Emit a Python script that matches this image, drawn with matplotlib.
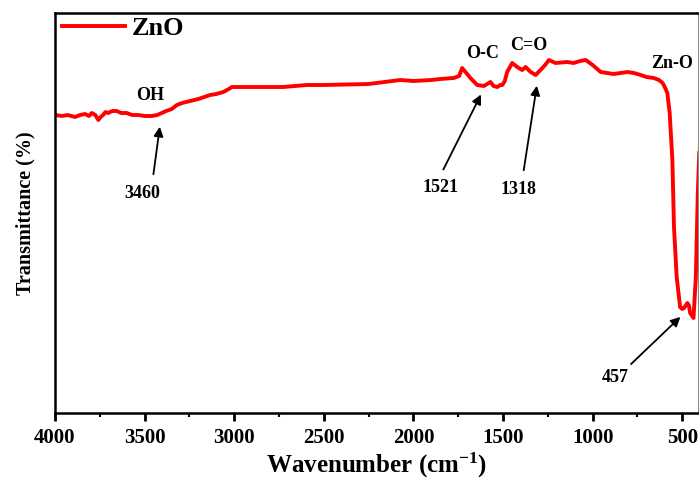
import matplotlib
matplotlib.use("Agg")
import matplotlib.pyplot as plt
from matplotlib.ticker import MultipleLocator

plt.rcParams["mathtext.fontset"] = "custom"
plt.rcParams["mathtext.rm"] = "Liberation Serif:bold"
plt.rcParams["mathtext.bf"] = "Liberation Serif:bold"
plt.rcParams["mathtext.it"] = "Liberation Serif:bold"

# Spectrum (wavenumber cm^-1, transmittance in arbitrary units)
wavenumber = [4000, 3960, 3930, 3888, 3860, 3832, 3810, 3795, 3775, 3758, 3745, 3732,
              3718, 3704, 3680, 3656, 3630, 3600, 3570, 3536, 3500, 3460, 3430, 3404,
              3380, 3348, 3320, 3290, 3246, 3200, 3134, 3100, 3061, 3030, 3013, 3000,
              2911, 2726, 2594, 2500, 2250, 2073, 2000, 1900, 1849, 1775, 1745, 1728,
              1719, 1700, 1682, 1644, 1607, 1570, 1553, 1532, 1515, 1504, 1490, 1477,
              1449, 1421, 1393, 1374, 1346, 1318, 1291, 1265, 1244, 1207, 1142, 1106,
              1070, 1039, 1000, 955, 920, 883, 805, 770, 732, 700, 659, 630, 609,
              595, 583, 570, 555, 546, 531, 512, 500, 490, 471, 462, 456, 437, 424,
              413, 405]
transmittance = [298, 297, 298, 296, 298, 299, 297, 300, 298, 293, 296, 298,
                 301, 300, 302, 302, 300, 300, 298, 298, 297, 297, 298, 300,
                 302, 304, 308, 310, 312, 314, 318, 319, 321, 324, 326, 326,
                 326, 326, 328, 328, 329, 333, 332, 333, 334, 335, 337, 345,
                 343, 339, 335, 328, 327, 331, 327, 326, 328, 328, 332, 341,
                 350, 346, 343, 346, 341, 338, 343, 348, 353, 350, 351, 350,
                 352, 353, 348, 341, 340, 339, 341, 340, 338, 336, 335, 333, 330,
                 325, 320, 300, 253, 186, 136, 106, 104, 105, 110, 107, 100, 95, 136,
                 220, 260]

tick_values = [4000, 3500, 3000, 2500, 2000, 1500, 1000, 500]

font = "Liberation Serif"

fig = plt.figure(figsize=(6.99, 4.80), dpi=100)
ax = fig.add_axes([55/699, 67/480, (698-55)/699, (413-13)/480])

ax.plot(wavenumber, transmittance, color="#ff0000", lw=2.8, label="ZnO",
        solid_joinstyle="round")

ax.set_xlim(4000, 412)
ax.set_ylim(0, 400)
ax.set_xticks(tick_values)
ax.xaxis.set_minor_locator(MultipleLocator(250))
ax.set_yticks([])
ax.tick_params(axis="x", which="major", direction="out", length=6, width=2, pad=5)
ax.tick_params(axis="x", which="minor", direction="out", length=3, width=1.5)
for lbl in ax.get_xticklabels():
    lbl.set_fontfamily(font)
    lbl.set_fontweight("bold")
    lbl.set_fontsize(15)

for side in ["left", "top", "bottom"]:
    ax.spines[side].set_linewidth(1.8)
    ax.spines[side].set_color("black")
ax.spines["right"].set_linewidth(0.8)
ax.spines["right"].set_color("#888888")

ax.set_xlabel("Wavenumber (cm$^{-1}$)", fontfamily=font, fontweight="bold",
              fontsize=18, va="baseline")
ax.xaxis.set_label_coords(0.5, -60/400)
ax.set_ylabel("Transmittance (%)", fontfamily=font, fontweight="bold", fontsize=14.5,
              labelpad=14)

leg = ax.legend(loc="upper left", frameon=False, handlelength=2.4, handletextpad=0.25,
                borderaxespad=0.0, borderpad=0.0, bbox_to_anchor=(7/643, 1 - 4/400),
                prop={"family": font, "weight": "bold", "size": 19})

afont = dict(fontfamily=font, fontweight="bold", fontsize=13, ha="center", va="center")
arrowprops = dict(arrowstyle="-|>", color="black", lw=1.3, mutation_scale=14)

ax.text(3469, 317, "OH", **afont)
ax.text(3514, 220, "3460", **afont)
ax.annotate("", xy=(3413, 289), xytext=(3453, 236), arrowprops=arrowprops)

ax.text(1616, 360, "O-C", **afont)
ax.text(1356, 368, "C=O", **afont)
ax.text(555, 350, "Zn-O", **afont)

ax.text(1849, 225, "1521", **afont)
ax.annotate("", xy=(1616, 321), xytext=(1840, 241), arrowprops=arrowprops)
ax.text(1413, 224, "1318", **afont)
ax.annotate("", xy=(1309, 330), xytext=(1387, 240), arrowprops=arrowprops)
ax.text(871, 36, "457", **afont)
ax.annotate("", xy=(499, 98), xytext=(797, 47), arrowprops=arrowprops)

fig.savefig("out.png", dpi=100)
